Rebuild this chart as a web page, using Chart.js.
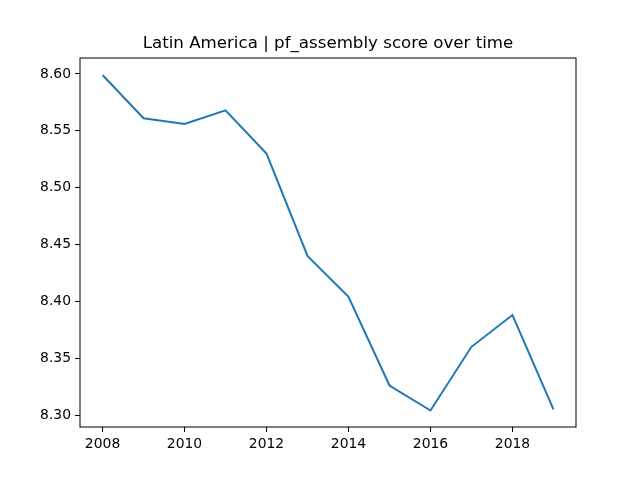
<!DOCTYPE html>
<html>
<head>
<meta charset="utf-8">
<script src="https://cdn.jsdelivr.net/npm/chart.js@4"></script>
<style>
  html, body { margin: 0; padding: 0; background: #fff; }
  #wrap { width: 640px; height: 480px; }
</style>
</head>
<body>
<div id="wrap"><canvas id="chart" width="640" height="480"></canvas></div>
<script>
// values
const years = [2008, 2009, 2010, 2011, 2012, 2013, 2014, 2015, 2016, 2017, 2018, 2019];
const scores = [8.599, 8.561, 8.556, 8.568, 8.530, 8.440, 8.404, 8.326, 8.304, 8.360, 8.388, 8.305];
const xTicks = [2008, 2010, 2012, 2014, 2016, 2018];
const yTicks = [8.30, 8.35, 8.40, 8.45, 8.50, 8.55, 8.60];

const lineColor = '#1f77b4';
const tickFont = { family: 'DejaVu Sans', size: 13.9 };

// matplotlib draws a full box round the axes
const framePlugin = {
    id: 'frame',
    afterDraw(chart) {
        const { ctx, chartArea: a } = chart;
        ctx.save();
        ctx.strokeStyle = '#000';
        ctx.lineWidth = 1;
        ctx.strokeRect(a.left, a.top, a.right - a.left, a.bottom - a.top);
        ctx.restore();
    }
};

new Chart(document.getElementById('chart'), {
    type: 'line',
    data: {
        datasets: [{
            data: years.map((y, i) => ({ x: y, y: scores[i] })),
            borderColor: lineColor,
            borderWidth: 2,
            pointRadius: 0,
            tension: 0,
            fill: false
        }]
    },
    options: {
        responsive: false,
        animation: false,
        layout: { padding: { left: 16, right: 0, top: 0, bottom: 0 } },
        plugins: {
            legend: { display: false },
            tooltip: { enabled: false },
            title: {
                display: true,
                text: 'Latin America | pf_assembly score over time',
                color: '#000',
                font: { family: 'DejaVu Sans', size: 16.67, weight: 'normal', lineHeight: 1.2 },
                padding: { top: 34, bottom: 4 }
            }
        },
        scales: {
            x: {
                type: 'linear',
                min: 2007.45,
                max: 2019.55,
                afterBuildTicks: s => { s.ticks = xTicks.map(v => ({ value: v })); },
                afterFit: s => { s.height = 53; },
                grid: { drawOnChartArea: false, drawTicks: true, tickLength: 5, color: '#000' },
                border: { display: false },
                ticks: { color: '#000', font: tickFont, padding: 4, maxRotation: 0, callback: v => String(v) }
            },
            y: {
                type: 'linear',
                min: 8.2895,
                max: 8.614,
                afterBuildTicks: s => { s.ticks = yTicks.map(v => ({ value: v })); },
                afterFit: s => { s.width = 64; },
                grid: { drawOnChartArea: false, drawTicks: true, tickLength: 5, color: '#000' },
                border: { display: false },
                ticks: { color: '#000', font: tickFont, padding: 4, callback: v => v.toFixed(2) }
            },
            right: {
                type: 'linear',
                position: 'right',
                min: 0,
                max: 1,
                afterFit: s => { s.width = 64; },
                grid: { display: false },
                border: { display: false },
                ticks: { display: false }
            }
        }
    },
    plugins: [framePlugin]
});
</script>
</body>
</html>
